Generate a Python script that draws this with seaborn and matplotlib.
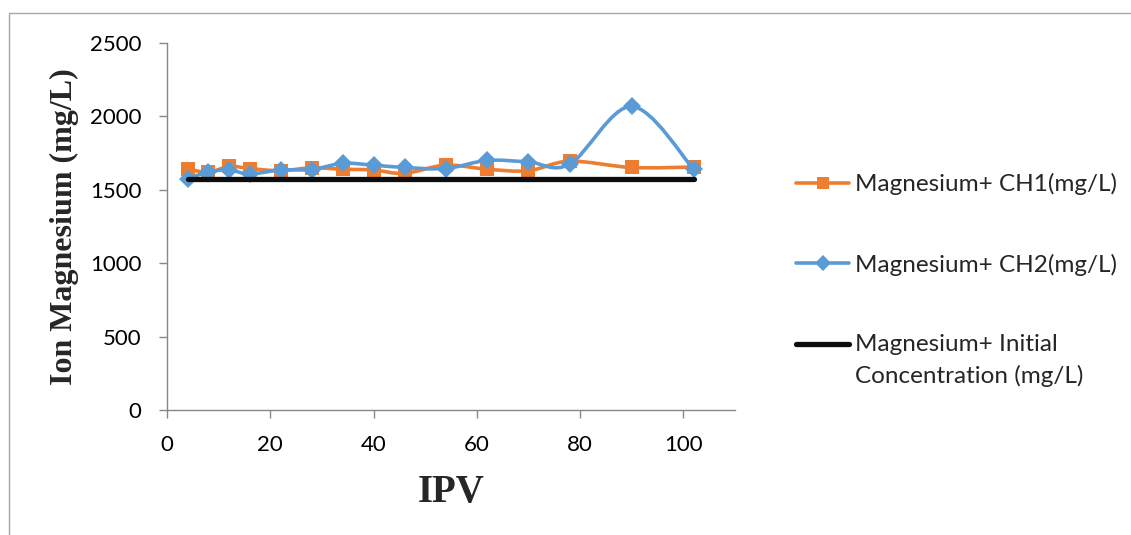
import numpy as np
import pandas as pd
import seaborn as sns
import matplotlib
matplotlib.use("Agg")
import matplotlib.pyplot as plt
from matplotlib.path import Path
from matplotlib.patches import PathPatch, Rectangle
from matplotlib.lines import Line2D

# ---- data ----
ipv = [4, 8, 12, 16, 22, 28, 34, 40, 46, 54, 62, 70, 78, 90, 102]
ch1 = [1645, 1618, 1660, 1645, 1630, 1650, 1640, 1635, 1612, 1668, 1640, 1630, 1695, 1652, 1655]
ch2 = [1574, 1622, 1635, 1608, 1635, 1638, 1680, 1668, 1652, 1645, 1700, 1690, 1675, 2068, 1640]
initial_ipv = [4, 102]
initial = [1572, 1572]

labels = ["Magnesium+ CH1(mg/L)", "Magnesium+ CH2(mg/L)",
          "Magnesium+ Initial\nConcentration (mg/L)"]
x_ticks = [0, 20, 40, 60, 80, 100]
y_ticks = [0, 500, 1000, 1500, 2000, 2500]

ORANGE = "#ED7D31"
BLUE = "#5B9BD5"
BLACK = "#0d0d0d"
GRAY = "#888888"

sns.set_theme(style="white")
plt.rcParams["font.family"] = ["Lato", "DejaVu Sans"]

W, H = 1131, 535
fig = plt.figure(figsize=(W / 100, H / 100), dpi=100)
ax = fig.add_axes([167 / W, 1 - 410 / H, (735 - 167) / W, (410 - 43) / H])


def smooth_patch(xs, ys, color, lw, z):
    pts = np.column_stack([xs, ys]).astype(float)
    n = len(pts)
    verts = [pts[0]]
    codes = [Path.MOVETO]
    for i in range(n - 1):
        p0 = pts[i - 1] if i > 0 else pts[i]
        p1 = pts[i]
        p2 = pts[i + 1]
        p3 = pts[i + 2] if i + 2 < n else pts[i + 1]
        verts += [p1 + (p2 - p0) / 6.0, p2 - (p3 - p1) / 6.0, p2]
        codes += [Path.CURVE4] * 3
    patch = PathPatch(Path(verts, codes), fill=False, edgecolor=color, lw=lw,
                      capstyle="round", joinstyle="round", zorder=z)
    ax.add_patch(patch)


# CH1
smooth_patch(ipv, ch1, ORANGE, 2.6, 2)
sns.lineplot(x=ipv, y=ch1, ax=ax, color=ORANGE, marker="s", markersize=10,
             markeredgewidth=0, linestyle="", zorder=3)
# CH2
smooth_patch(ipv, ch2, BLUE, 2.6, 4)
sns.lineplot(x=ipv, y=ch2, ax=ax, color=BLUE, marker="D", markersize=9,
             markeredgewidth=0, linestyle="", zorder=5)
# Initial concentration
sns.lineplot(x=initial_ipv, y=initial, ax=ax, color=BLACK, lw=3.8,
             solid_capstyle="round", zorder=6)

ax.set_xlim(0, 110)
ax.set_ylim(0, 2500)
ax.set_xticks(x_ticks)
ax.set_yticks(y_ticks)
ax.set_xticklabels([str(v) for v in x_ticks])
ax.set_yticklabels([str(v) for v in y_ticks])
ax.tick_params(axis="both", which="major", labelsize=16, colors=GRAY,
               labelcolor="black", direction="out", length=5.8, width=1,
               left=True, bottom=True)
ax.tick_params(axis="x", pad=12.5)
ax.tick_params(axis="y", pad=12.5)
for s in ["top", "right"]:
    ax.spines[s].set_visible(False)
for s in ["left", "bottom"]:
    ax.spines[s].set_color(GRAY)
    ax.spines[s].set_linewidth(1)
ax.grid(False)

ax.set_xlabel("IPV", family=["Liberation Serif"], fontweight="bold", fontsize=28)
ax.set_ylabel("Ion Magnesium (mg/L)", family=["Liberation Serif"],
              fontweight="bold", fontsize=23)
ax.yaxis.set_label_coords(-0.155, 0.5)
ax.xaxis.set_label_coords(0.5, -0.175)

handles = [
    Line2D([], [], color=ORANGE, lw=2.6, marker="s", markersize=9, markeredgewidth=0),
    Line2D([], [], color=BLUE, lw=2.6, marker="D", markersize=8, markeredgewidth=0),
    Line2D([], [], color=BLACK, lw=3.8),
]
leg = fig.legend(handles, labels, loc="upper left", bbox_to_anchor=(796 / W, 1 - 173 / H),
                 frameon=False, fontsize=17.5, handlelength=2.2, handletextpad=0.22,
                 labelspacing=2.4, borderpad=0, borderaxespad=0)
leg.get_texts()[2].set_linespacing(1.55)
# align the third handle with the first line of its two-line label
h3 = leg.legend_handles[2]
h3.set_ydata(np.asarray(h3.get_ydata(), dtype=float) + 12)

# outer chart-area border
fig.patches.append(Rectangle((9 / W, -0.2), 1.2, 1.2 - 13 / H, transform=fig.transFigure,
                             fill=False, edgecolor="#a6a6a6", lw=1))

fig.savefig("out.png", dpi=100)
